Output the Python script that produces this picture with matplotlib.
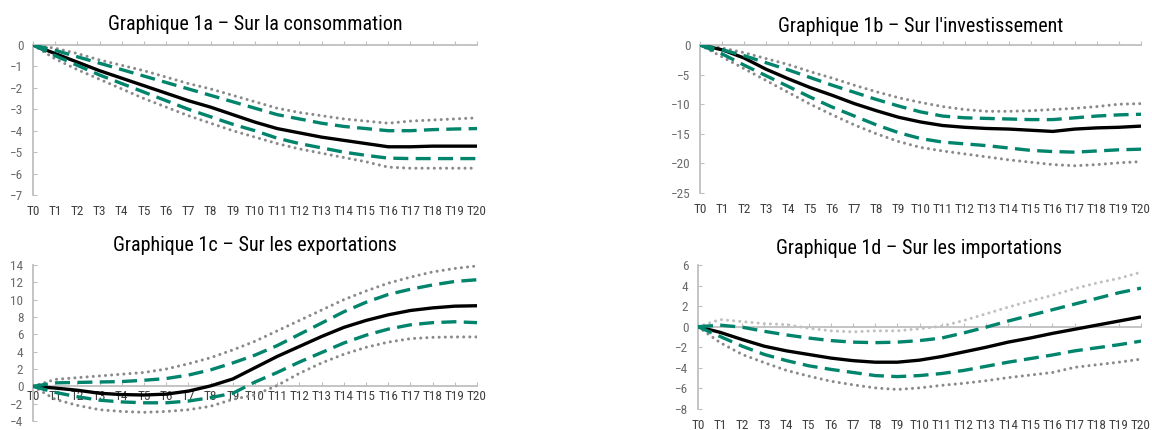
import numpy as np
import matplotlib
matplotlib.use("Agg")
import matplotlib.pyplot as plt

plt.rcParams["font.family"] = ["Roboto Condensed", "DejaVu Sans"]

periods = list(range(21))
period_labels = [f"T{i}" for i in periods]

# Graphique 1a - consommation
conso_mid = [0, -0.4, -0.8, -1.2, -1.55, -1.9, -2.25, -2.6, -2.9, -3.25, -3.6,
             -3.9, -4.1, -4.3, -4.45, -4.6, -4.75, -4.75, -4.72, -4.72, -4.72]
conso_in_hi = [0, -0.25, -0.55, -0.85, -1.15, -1.45, -1.75, -2.05, -2.35, -2.65, -2.95,
               -3.25, -3.45, -3.65, -3.8, -3.9, -4.0, -4.0, -3.95, -3.92, -3.9]
conso_in_lo = [0, -0.5, -0.95, -1.4, -1.8, -2.2, -2.6, -3.0, -3.35, -3.7, -4.0,
               -4.35, -4.6, -4.8, -5.0, -5.15, -5.28, -5.3, -5.3, -5.3, -5.3]
conso_out_hi = [0, -0.15, -0.4, -0.7, -0.95, -1.2, -1.5, -1.8, -2.05, -2.35, -2.65,
                -2.95, -3.15, -3.3, -3.45, -3.55, -3.65, -3.55, -3.5, -3.45, -3.4]
conso_out_lo = [0, -0.65, -1.15, -1.6, -2.05, -2.5, -2.9, -3.3, -3.65, -4.0, -4.3,
                -4.6, -4.85, -5.05, -5.25, -5.45, -5.7, -5.75, -5.75, -5.75, -5.75]

# Graphique 1b - investissement
invest_mid = [0, -0.8, -2.2, -4.1, -5.7, -7.2, -8.5, -9.9, -11.1, -12.2, -13.0,
              -13.6, -13.9, -14.1, -14.2, -14.4, -14.6, -14.2, -14.0, -13.9, -13.7]
invest_in_hi = [0, -0.8, -1.8, -3.0, -4.2, -5.5, -6.8, -8.0, -9.2, -10.3, -11.3,
                -12.0, -12.3, -12.4, -12.5, -12.6, -12.6, -12.3, -12.0, -11.8, -11.7]
invest_in_lo = [0, -1.5, -3.4, -5.2, -7.0, -8.8, -10.5, -12.0, -13.5, -14.8, -15.8,
                -16.4, -16.7, -17.0, -17.4, -17.8, -18.0, -18.1, -17.9, -17.7, -17.6]
invest_out_hi = [0, -0.5, -1.3, -2.3, -3.3, -4.5, -5.6, -6.8, -7.9, -8.9, -9.7,
                 -10.4, -10.9, -11.2, -11.2, -11.1, -10.9, -10.7, -10.4, -10.0, -9.9]
invest_out_lo = [0, -2.0, -4.0, -6.0, -8.0, -10.0, -11.8, -13.5, -15.0, -16.3, -17.3,
                 -17.9, -18.4, -18.9, -19.4, -19.8, -20.2, -20.4, -20.2, -19.9, -19.7]

# Graphique 1c - exportations
export_mid = [0, -0.2, -0.45, -0.8, -0.95, -1.0, -0.9, -0.55, 0.05, 0.85, 2.15,
              3.45, 4.6, 5.75, 6.8, 7.6, 8.25, 8.75, 9.05, 9.25, 9.3]
export_in_hi = [0, 0.4, 0.45, 0.5, 0.55, 0.7, 0.9, 1.3, 1.9, 2.7, 3.6,
                4.7, 6.0, 7.3, 8.6, 9.7, 10.6, 11.2, 11.7, 12.1, 12.3]
export_in_lo = [0, -0.7, -1.2, -1.6, -1.8, -1.9, -1.9, -1.7, -1.3, -0.8, 0.5,
                1.6, 2.8, 3.9, 5.0, 5.9, 6.6, 7.1, 7.35, 7.45, 7.35]
export_out_hi = [0, 0.8, 1.0, 1.2, 1.4, 1.6, 2.0, 2.6, 3.3, 4.2, 5.2,
                 6.4, 7.6, 8.8, 10.0, 11.0, 11.9, 12.6, 13.2, 13.6, 13.9]
export_out_lo = [0, -1.5, -2.2, -2.7, -2.9, -3.0, -2.9, -2.7, -2.3, -1.5, -1.0,
                 0.1, 1.5, 2.7, 3.7, 4.5, 5.1, 5.5, 5.65, 5.7, 5.7]

# Graphique 1d - importations
import_mid = [0, -0.55, -1.25, -1.9, -2.35, -2.7, -3.05, -3.3, -3.45, -3.45, -3.25,
              -2.9, -2.45, -2.0, -1.5, -1.1, -0.65, -0.25, 0.15, 0.55, 0.95]
import_in_hi = [0, 0.15, -0.05, -0.45, -0.8, -1.1, -1.35, -1.5, -1.55, -1.5, -1.35,
                -1.1, -0.6, -0.05, 0.55, 1.1, 1.65, 2.2, 2.75, 3.3, 3.75]
import_in_lo = [0, -0.95, -1.9, -2.7, -3.3, -3.8, -4.15, -4.45, -4.75, -4.85, -4.75,
                -4.55, -4.25, -3.85, -3.45, -3.1, -2.75, -2.35, -2.05, -1.75, -1.4]
import_out_hi = [0, 0.7, 0.5, 0.3, 0.2, -0.15, -0.4, -0.5, -0.4, -0.4, -0.2,
                 0.05, 0.6, 1.25, 1.9, 2.5, 3.05, 3.7, 4.25, 4.7, 5.3]
import_out_lo = [0, -1.55, -2.7, -3.5, -4.25, -4.8, -5.3, -5.65, -5.95, -6.1, -5.95,
                 -5.7, -5.5, -5.25, -4.95, -4.7, -4.45, -3.95, -3.7, -3.45, -3.15]

TEAL = "#00846c"
DOT = "#8a8a8a"
DOT_LIGHT = "#c0c0c0"
AXIS = "#bfbfbf"
TICK_SIZE = 9.5

W, H = 1152, 430


def rect(left, right, top, bottom):
    return [left / W, 1 - bottom / H, (right - left) / W, (bottom - top) / H]


def draw_panel(ax, title, title_y, mid, in_hi, in_lo, out_hi, out_lo, ylim, yticks,
               labels_low=True, hi_color=DOT):
    ax.plot(periods, mid, color="black", lw=2.4, solid_capstyle="butt", zorder=3)
    for s in (in_hi, in_lo):
        ax.plot(periods, s, color=TEAL, lw=2.4, dashes=(4.5, 2.2), zorder=4)
    ax.plot(periods, out_hi, color=hi_color, lw=2.2, linestyle=(0, (0.01, 2.0)),
            dash_capstyle="round", zorder=2)
    ax.plot(periods, out_lo, color=DOT, lw=2.2, linestyle=(0, (0.01, 2.0)),
            dash_capstyle="round", zorder=2)

    ax.set_xlim(0, 20)
    ax.set_ylim(*ylim)
    ax.set_yticks(yticks)
    for side in ("top", "right"):
        ax.spines[side].set_visible(False)
    ax.spines["left"].set_color(AXIS)
    ax.spines["left"].set_linewidth(1.3)
    ax.spines["bottom"].set_position(("data", 0))
    ax.spines["bottom"].set_color(AXIS)
    ax.spines["bottom"].set_linewidth(1.3)
    ax.spines["bottom"].set_zorder(1)

    ax.tick_params(axis="y", direction="in", length=3, color=AXIS, labelsize=TICK_SIZE,
                   labelcolor="#6b6b6b", pad=7)
    ax.set_xticks(periods)
    ax.tick_params(axis="x", direction="in", length=3, color=AXIS, labelsize=TICK_SIZE,
                   labelcolor="#404040", pad=3)
    if labels_low:
        ax.tick_params(axis="x", labelbottom=False)
        sec = ax.secondary_xaxis("bottom")
        sec.set_xticks(periods, period_labels)
        sec.tick_params(length=0, labelsize=TICK_SIZE, labelcolor="#404040", pad=7)
        sec.spines["bottom"].set_visible(False)
    else:
        ax.set_xticklabels(period_labels)

    pos = ax.get_position()
    fig.text(pos.x0 + pos.width / 2, 1 - title_y / H, title, ha="center", va="center",
             fontsize=14.5, color="black")


fig = plt.figure(figsize=(W / 100, H / 100), dpi=100)

ax_a = fig.add_axes(rect(33, 477, 45, 195))
draw_panel(ax_a, "Graphique 1a – Sur la consommation", 24,
           conso_mid, conso_in_hi, conso_in_lo, conso_out_hi, conso_out_lo,
           (-7, 0), range(-7, 1))

ax_b = fig.add_axes(rect(700, 1141, 45, 193))
draw_panel(ax_b, "Graphique 1b – Sur l'investissement", 27,
           invest_mid, invest_in_hi, invest_in_lo, invest_out_hi, invest_out_lo,
           (-25, 0), range(-25, 1, 5))

ax_c = fig.add_axes(rect(33, 477, 265, 421))
draw_panel(ax_c, "Graphique 1c – Sur les exportations", 246,
           export_mid, export_in_hi, export_in_lo, export_out_hi, export_out_lo,
           (-4, 14), range(-4, 15, 2), labels_low=False)

ax_d = fig.add_axes(rect(698, 1141, 265, 409))
draw_panel(ax_d, "Graphique 1d – Sur les importations", 248,
           import_mid, import_in_hi, import_in_lo, import_out_hi, import_out_lo,
           (-8, 6), range(-8, 7, 2), hi_color=DOT_LIGHT)

fig.savefig("out.png", dpi=100)
